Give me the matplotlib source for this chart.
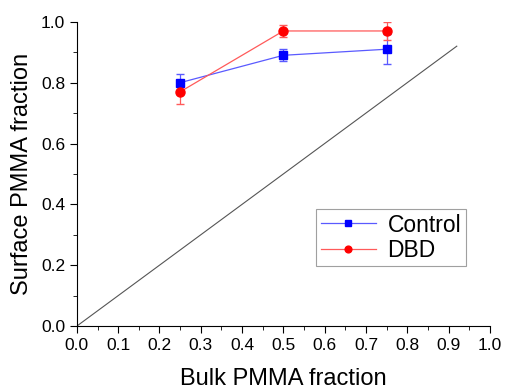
import numpy as np
import matplotlib
matplotlib.use("Agg")
import matplotlib.pyplot as plt
from matplotlib.ticker import MultipleLocator

plt.rcParams.update({
    "font.family": "Liberation Sans",
    "xtick.direction": "out",
    "ytick.direction": "out",
})

bulk = [0.25, 0.5, 0.75]
control = [0.80, 0.89, 0.91]
control_err = [0.03, 0.02, 0.05]
dbd = [0.77, 0.97, 0.97]
dbd_err = [0.04, 0.02, 0.03]
diag = [0.0, 0.92]

fig = plt.figure(figsize=(5.06, 3.9), dpi=100)
ax = fig.add_axes([0.152, 0.164, 0.816, 0.78])

ax.plot(diag, diag, color="#555555", lw=0.8)

ax.errorbar(bulk, control, yerr=control_err, color="#5a5aff", ecolor="#5a5aff",
            lw=0.9, elinewidth=0.9, capsize=3, marker="s", ms=6, mfc="#0000ff",
            mec="#0000ff", label="Control")
ax.errorbar(bulk, dbd, yerr=dbd_err, color="#ff5a5a", ecolor="#ff5a5a",
            lw=0.9, elinewidth=0.9, capsize=3, marker="o", ms=6.5, mfc="#ff0000",
            mec="#ff0000", label="DBD")

ax.set_xlim(0, 1.0)
ax.set_ylim(0, 1.0)
ax.xaxis.set_major_locator(MultipleLocator(0.1))
ax.xaxis.set_minor_locator(MultipleLocator(0.05))
ax.yaxis.set_major_locator(MultipleLocator(0.2))
ax.yaxis.set_minor_locator(MultipleLocator(0.1))
ax.tick_params(which="major", length=5, labelsize=12.5)
ax.tick_params(which="minor", length=3)
for s in ["top", "right"]:
    ax.spines[s].set_visible(False)

ax.set_xlabel("Bulk PMMA fraction", fontsize=17, labelpad=11)
ax.set_ylabel("Surface PMMA fraction", fontsize=17, labelpad=6)

handles, labels = ax.get_legend_handles_labels()
handles = [h[0] for h in handles]
leg = ax.legend(handles, labels, loc="upper left", bbox_to_anchor=(0.58, 0.385),
                fontsize=16.5, fancybox=False, edgecolor="#888888",
                handlelength=2.4, borderaxespad=0, borderpad=0.2,
                labelspacing=0.1, handletextpad=0.5, markerscale=0.75)
leg.get_frame().set_linewidth(0.8)

fig.savefig("out.png", dpi=100)
